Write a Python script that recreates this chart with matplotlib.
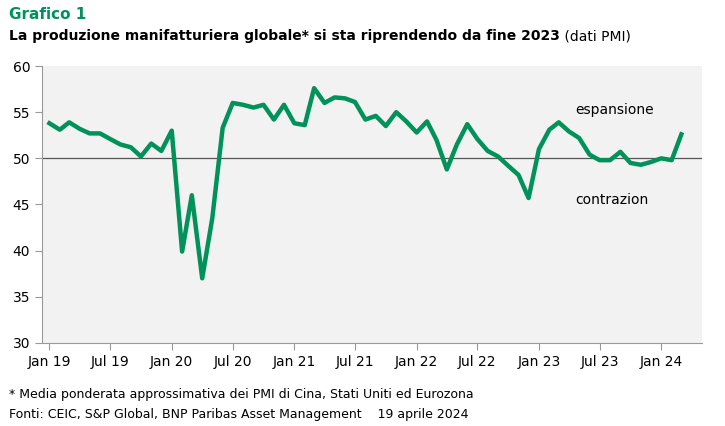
import matplotlib.pyplot as plt
import pandas as pd
pmi = [53.8,53.1,53.9,53.2,52.7,52.7,52.1,51.5,51.2,50.2,51.6,50.8,
       53.0,39.9,46.0,37.0,43.5,53.3,56.0,55.8,55.5,55.8,54.2,55.8,
       53.8,53.6,57.6,56.0,56.6,56.5,56.1,54.2,54.6,53.5,55.0,54.0,
       52.8,54.0,52.0,48.8,51.5,53.7,52.1,50.8,50.2,49.2,48.2,45.7,
       51.0,53.1,53.9,52.9,52.2,50.4,49.8,49.8,50.7,49.5,49.3,49.6,
       50.0,49.8,52.6]
months = pd.date_range("2019-01-01", periods=len(pmi), freq="MS")
plt.rcParams['font.family'] = 'DejaVu Sans'
fig = plt.figure(figsize=(7.25, 4.26), dpi=100)
fig.patch.set_facecolor("white")
ax = fig.add_axes([0.058, 0.195, 0.91, 0.65])
ax.set_facecolor("#f2f2f2")
ax.axhline(50, color="#555555", linewidth=0.9)
ax.plot(months, pmi, color="#00925a", linewidth=3.2)
ax.set_ylim(30, 60)
ax.set_xlim(pd.Timestamp("2018-12-10"), pd.Timestamp("2024-05-01"))
ticks = pd.date_range("2019-01-01", "2024-01-01", freq="6MS")
ax.set_xticks(ticks)
ax.set_xticklabels([t.strftime("%b %y") for t in ticks], fontsize=10)
ax.set_yticks(range(30, 61, 5))
ax.tick_params(axis="y", labelsize=10, color="#999999", length=5)
ax.tick_params(axis="x", color="#999999", length=5)
for s in ["top", "right"]:
    ax.spines[s].set_visible(False)
ax.spines["left"].set_color("#999999")
ax.spines["bottom"].set_color("#999999")
ax.text(pd.Timestamp("2023-04-20"), 54.8, "espansione", fontsize=10)
ax.text(pd.Timestamp("2023-04-20"), 45.0, "contrazion", fontsize=10)
fig.text(0.012, 0.955, "Grafico 1", fontsize=11, fontweight="bold", color="#00925a")
t = fig.text(0.012, 0.905, "La produzione manifatturiera globale* si sta riprendendo da fine 2023", fontsize=10, fontweight="bold")
plt.annotate(" (dati PMI)", xy=(1, 0), xycoords=t, va="bottom", fontsize=10)
fig.text(0.012, 0.065, "* Media ponderata approssimativa dei PMI di Cina, Stati Uniti ed Eurozona", fontsize=9)
fig.text(0.012, 0.018, "Fonti: CEIC, S&P Global, BNP Paribas Asset Management    19 aprile 2024", fontsize=9)
fig.savefig("out.png")
